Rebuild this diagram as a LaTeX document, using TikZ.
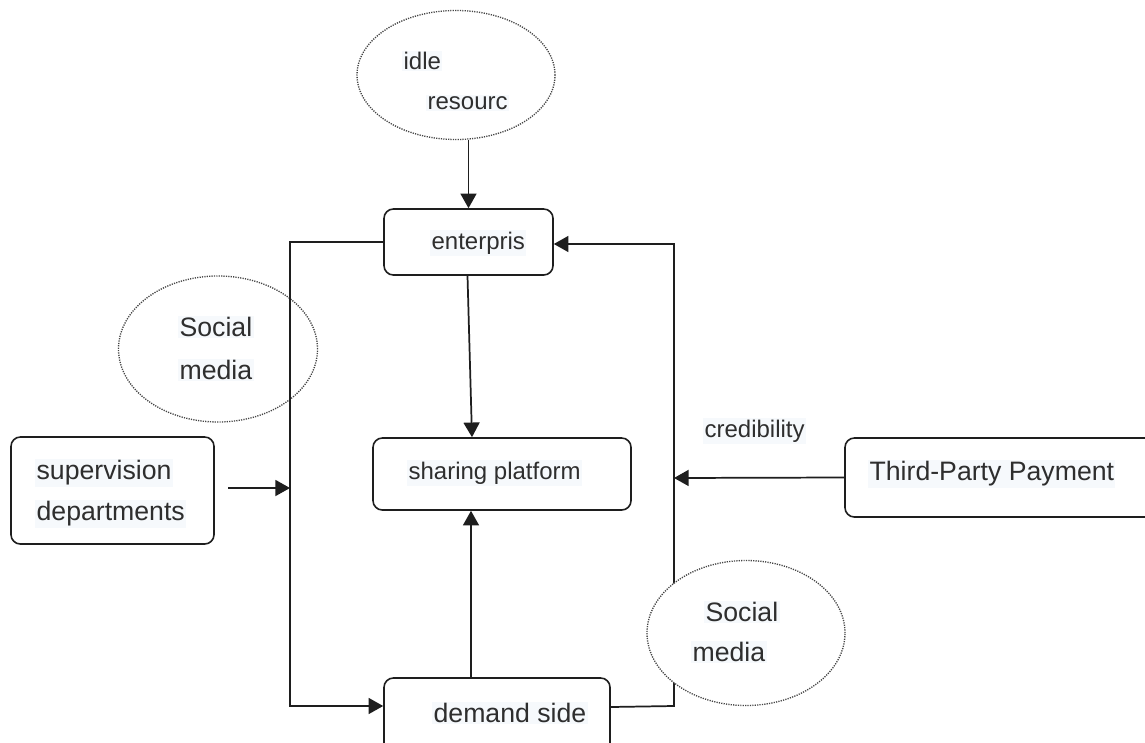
\documentclass[tikz,border=0pt]{standalone}
\usepackage{fontspec}
\setmainfont{Liberation Sans}
\usetikzlibrary{arrows.meta,calc,shapes.geometric}
\definecolor{ink}{HTML}{1E1E1E}
\definecolor{txt}{HTML}{2E2E2E}
\definecolor{hl}{HTML}{F6F9FC}
\definecolor{dotc}{HTML}{444444}
\begin{document}
\begin{tikzpicture}[x=0.75pt,y=-0.75pt,
  box/.style={draw=ink, line width=1.2pt, rounded corners=7pt, inner sep=0pt},
  bubble/.style={ellipse, draw=dotc, line width=1pt, dash pattern=on 0.9pt off 0.9pt, inner sep=0pt},
  lbl/.style={anchor=west, inner sep=1pt, fill=hl, text=txt, font=\fontsize{18pt}{20pt}\selectfont},
  lblb/.style={lbl, font=\fontsize{20pt}{22pt}\selectfont},
  conn/.style={draw=ink, line width=1.3pt},
  arr/.style={conn, -{Triangle[length=11pt,width=12pt]}}]
\useasboundingbox (0,0) rectangle (1145,742);
\clip (0,0) rectangle (1145,742);
\fill[white] (0,0) rectangle (1145,742);

% ellipses (left and top)
\node[bubble, minimum width=148.5pt, minimum height=96.75pt] (idle) at (456,75) {};
\node[lbl] (idleT) at (402,61) {idle};
\node[lbl] (resT) at (426,103) {resourc};

\node[bubble, minimum width=149.25pt, minimum height=109.5pt] (sm1) at (218,349) {};
\node[lblb] (sm1a) at (178,327) {Social};
\node[lblb] (sm1b) at (178,370) {media};

% boxes
\node[box, minimum width=126.75pt, minimum height=49.5pt] (ent) at (468.5,242) {};
\node[lbl] (entT) at (430,243) {enterpris};

\node[box, minimum width=193.5pt, minimum height=54pt] (share) at (502,474) {};
\node[lbl] (shareT) at (407,473) {sharing platform};

\node[box, minimum width=169.5pt, minimum height=55.5pt] (dem) at (497,715) {};
\node[lblb] (demT) at (432,713) {demand side};

\node[box, minimum width=152.25pt, minimum height=80.25pt] (sup) at (112.5,490.5) {};
\node[lblb] (supA) at (35,473) {supervision};
\node[lblb] (supB) at (35,514) {departments};

\node[box, minimum width=232.5pt, minimum height=59.25pt] (tpp) at (1000,477.5) {};
\node[lblb] (tppT) at (868,474) {Third-Party Payment};

\node[lbl] (cred) at (703,431) {credibility};

% connectors
\coordinate (Ls) at (228,488);
\coordinate (Lm) at (290,488);
\coordinate (Ltop) at (290,242);
\coordinate (Lbot) at (290,706);
\coordinate (Rtop) at (674,244);
\coordinate (Rbot) at (674,706);
\coordinate (Rmid) at (674,478);

\draw[arr] (ent.north |- idle.south) -- (ent.north);
\draw[arr] ($(ent.south)+(-1,0)$) -- ($(share.north)+(-30,0)$);
\draw[arr] ($(dem.north)+(-26,0)$) -- ($(share.south)+(-31,0)$);
\draw[arr] (ent.west) -- (Ltop) -- (Lbot) -- (dem.west |- Lbot);
\draw[arr] (Ls) -- (Lm);
\draw[arr] ($(dem.east)+(0,-8)$) -- (Rbot) -- (Rtop) -- (ent.east |- Rtop);
\draw[arr] (tpp.west) -- (Rmid);

% right ellipse (covers the line)
\node[bubble, fill=white, minimum width=148.5pt, minimum height=108.75pt] (sm2) at (746,633) {};
\node[lblb] (sm2a) at (704,612) {Social};
\node[lblb] (sm2b) at (691,652) {media};
\end{tikzpicture}
\end{document}
